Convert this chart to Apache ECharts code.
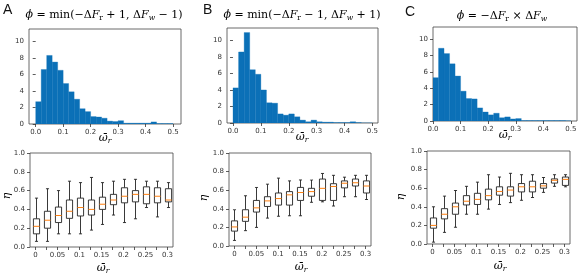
<!DOCTYPE html>
<html><head><meta charset="utf-8">
<script src="https://cdn.jsdelivr.net/npm/echarts@6/dist/echarts.min.js"></script>
<style>html,body{margin:0;padding:0;background:#fff}#c{width:581px;height:276px}</style>
</head><body><div id="c"></div><script>
// ---------- data ----------
const histBinEdges = [0,0.02,0.04,0.06,0.08,0.10,0.12,0.14,0.16,0.18,0.20,0.22,0.24,0.26,0.28,0.30,0.32,0.34,0.36,0.38,0.40,0.42,0.44,0.46,0.48,0.50];
const histA = [2.7,6.6,8.3,7.5,6.5,4.9,3.9,3.0,1.85,1.5,0.9,0.85,0.7,0.35,0.3,0.4,0.1,0.1,0.1,0.1,0.1,0.25,0.05,0.05,0.05];
const histB = [4.25,8.6,10.95,6.45,5.9,4.0,2.45,2.4,1.1,0.95,1.1,0.75,0.35,0.15,0.35,0.15,0.1,0.1,0.05,0.05,0.05,0.15,0.05,0,0];
const histC = [5.3,8.9,8.25,7.0,5.5,3.65,2.75,2.7,1.6,1.1,0.75,0.95,0.4,0.5,0.25,0.3,0.05,0.05,0.05,0.05,0.05,0.05,0.05,0.05,0.02];
const histXTickLabels = ['0.0','0.1','0.2','0.3','0.4','0.5'];
const histYTickLabels = ['0','2','4','6','8','10'];

const boxCategories = ['0','','0.05','','0.1','','0.15','','0.2','','0.25','','0.3'];
const boxYTickLabels = ['0.0','0.2','0.4','0.6','0.8','1.0'];
// [low whisker, Q1, median, Q3, high whisker]
const boxA = [[0.06,0.14,0.22,0.30,0.52],[0.06,0.20,0.285,0.38,0.62],[0.14,0.26,0.335,0.425,0.60],[0.14,0.305,0.38,0.50,0.70],[0.14,0.33,0.42,0.52,0.685],[0.18,0.34,0.40,0.50,0.74],[0.24,0.40,0.455,0.53,0.685],[0.34,0.45,0.50,0.56,0.70],[0.26,0.47,0.54,0.63,0.72],[0.30,0.48,0.56,0.60,0.72],[0.42,0.46,0.56,0.64,0.70],[0.32,0.47,0.54,0.63,0.70],[0.42,0.48,0.50,0.62,0.685]];
const boxB = [[0.06,0.16,0.205,0.27,0.39],[0.165,0.265,0.31,0.39,0.54],[0.20,0.365,0.41,0.49,0.63],[0.30,0.425,0.485,0.53,0.665],[0.32,0.44,0.51,0.57,0.73],[0.325,0.44,0.55,0.585,0.70],[0.325,0.49,0.575,0.63,0.71],[0.47,0.535,0.585,0.62,0.71],[0.475,0.49,0.62,0.72,0.78],[0.43,0.49,0.64,0.67,0.76],[0.53,0.625,0.675,0.70,0.74],[0.53,0.645,0.68,0.72,0.76],[0.50,0.57,0.645,0.70,0.76]];
const boxC = [[0.02,0.17,0.20,0.28,0.40],[0.125,0.27,0.32,0.38,0.515],[0.18,0.32,0.40,0.44,0.575],[0.32,0.42,0.46,0.52,0.62],[0.32,0.425,0.48,0.545,0.665],[0.375,0.475,0.52,0.59,0.745],[0.425,0.525,0.565,0.615,0.72],[0.445,0.515,0.58,0.615,0.76],[0.47,0.56,0.615,0.65,0.745],[0.50,0.56,0.615,0.675,0.745],[0.555,0.60,0.625,0.65,0.715],[0.62,0.655,0.685,0.70,0.745],[0.615,0.63,0.695,0.72,0.745]];
// outliers: [category index, value]
const outA = [[7,0.29],[7,0.265],[8,0.14]];
const outB = [[0,0.43],[1,0.585],[2,0.77],[2,0.72],[2,0.70],[2,0.69],[2,0.68],[2,0.67],[3,0.71],[7,0.75]];
const outC = [[1,0.56],[1,0.075],[2,0.64],[3,0.685],[3,0.265],[5,0.32],[5,0.315],[6,0.36],[6,0.355],[7,0.32],[10,0.50],[11,0.57],[11,0.555],[12,0.475]];

// ---------- layout ----------
const histGrids = [
  {left:29, top:29, width:152, height:95, xmin:-0.0244, xmax:0.529},
  {left:227, top:28, width:151, height:95, xmin:-0.0215, xmax:0.520},
  {left:433, top:27, width:144, height:94, xmin:0.0, xmax:0.522}
];
const boxGrids = [
  {left:30, top:153, width:143, height:94},
  {left:229, top:153, width:142, height:93},
  {left:427, top:151, width:143, height:93}
];
const AX = '#333';
const tickFont = {fontFamily:'DejaVu Sans', fontSize:7, color:'#333'};

const grids=[], xAxes=[], yAxes=[], series=[];
const histX = histXTickLabels.map(Number), histY = histYTickLabels.map(Number);
const hists = [histA, histB, histC];
histGrids.forEach((g,i)=>{
  grids.push({left:g.left, top:g.top, width:g.width, height:g.height, show:true, borderColor:'#444', borderWidth:0.8});
  xAxes.push({gridIndex:i, type:'value', min:g.xmin, max:g.xmax,
    axisLine:{show:false}, splitLine:{show:false},
    axisTick:{show:true, length:3, lineStyle:{color:AX, width:0.8}, customValues:histX},
    axisLabel:Object.assign({customValues:histX, margin:5, formatter:v=>histXTickLabels[histX.findIndex(t=>Math.abs(t-v)<1e-9)]}, tickFont)});
  yAxes.push({gridIndex:i, type:'value', min:0, max:11.5,
    axisLine:{show:false}, splitLine:{show:false},
    axisTick:{show:true, length:3, lineStyle:{color:AX, width:0.8}, customValues:histY},
    axisLabel:Object.assign({customValues:histY, margin:5, formatter:v=>histYTickLabels[histY.indexOf(v)]}, tickFont)});
  const data = hists[i].map((h,k)=>[histBinEdges[k], histBinEdges[k+1], h]);
  series.push({type:'custom', xAxisIndex:i, yAxisIndex:i, data, encode:{x:[0,1], y:2}, clip:true,
    renderItem:(params, api)=>{
      const p0 = api.coord([api.value(0), 0]);
      const p1 = api.coord([api.value(1), api.value(2)]);
      return {type:'rect', shape:{x:p0[0], y:p1[1], width:p1[0]-p0[0], height:p0[1]-p1[1]},
        style:{fill:'#0b70b7', stroke:'#0b70b7', lineWidth:0.3}};
    }});
});
const boxes=[boxA, boxB, boxC], outs=[outA,outB,outC];
boxGrids.forEach((g,j)=>{
  const i = j+3;
  grids.push({left:g.left, top:g.top, width:g.width, height:g.height, show:true, borderColor:'#444', borderWidth:0.8});
  xAxes.push({gridIndex:i, type:'category', data:boxCategories, boundaryGap:true,
    axisLine:{show:false}, splitLine:{show:false},
    axisTick:{show:true, length:3, alignWithLabel:true, interval:0, lineStyle:{color:AX, width:0.8}},
    axisLabel:Object.assign({interval:0, margin:5}, tickFont)});
  yAxes.push({gridIndex:i, type:'value', min:0, max:1, interval:0.2,
    axisLine:{show:false}, splitLine:{show:false},
    axisTick:{show:true, length:3, lineStyle:{color:AX, width:0.8}},
    axisLabel:Object.assign({margin:5, formatter:v=>boxYTickLabels[Math.round(v/0.2)]}, tickFont)});
  const data = boxes[j].map((b,k)=>[k].concat(b));
  series.push({type:'custom', xAxisIndex:i, yAxisIndex:i, data, encode:{x:0, y:[1,2,3,4,5]},
    renderItem:(params, api)=>{
      const k = api.value(0);
      const band = api.size([1,0])[0];
      const bw = band*0.56, cw = band*0.28;
      const lo=api.coord([k,api.value(1)]), q1=api.coord([k,api.value(2)]), md=api.coord([k,api.value(3)]),
            q3=api.coord([k,api.value(4)]), hi=api.coord([k,api.value(5)]);
      const x = Math.round(lo[0])+0.5;
      const ls = {stroke:'#222', lineWidth:0.9};
      return {type:'group', children:[
        {type:'line', shape:{x1:x,y1:q3[1],x2:x,y2:hi[1]}, style:ls},
        {type:'line', shape:{x1:x,y1:q1[1],x2:x,y2:lo[1]}, style:ls},
        {type:'line', shape:{x1:x-cw/2,y1:hi[1],x2:x+cw/2,y2:hi[1]}, style:ls},
        {type:'line', shape:{x1:x-cw/2,y1:lo[1],x2:x+cw/2,y2:lo[1]}, style:ls},
        {type:'rect', shape:{x:x-bw/2, y:q3[1], width:bw, height:q1[1]-q3[1]}, style:{fill:'#fff', stroke:'#222', lineWidth:0.9}},
        {type:'line', shape:{x1:x-bw/2,y1:md[1],x2:x+bw/2,y2:md[1]}, style:{stroke:'#ff7f0e', lineWidth:1}}
      ]};
    }});
  series.push({type:'scatter', xAxisIndex:i, yAxisIndex:i, data:outs[j], symbol:'emptyCircle', symbolSize:4.5,
    itemStyle:{color:'#fff', borderColor:'#222', borderWidth:0.8}, silent:true});
});

// ---------- texts ----------
const serif = 'DejaVu Serif';
const TC = '#3a3a3a';
const rich = {
  n:{fontFamily:serif, fontSize:11, lineHeight:15, color:TC},
  i:{fontFamily:serif, fontSize:11, lineHeight:15, fontStyle:'italic', color:TC},
  s:{fontFamily:serif, fontSize:7.5, lineHeight:6, verticalAlign:'bottom', color:TC},
  si:{fontFamily:serif, fontSize:7.5, lineHeight:6, verticalAlign:'bottom', fontStyle:'italic', color:TC},
  big:{fontFamily:serif, fontSize:11, lineHeight:15, fontStyle:'italic', color:TC}
};
function txt(x,y,text,rot){
  return {type:'text', x:x, y:y, rotation:rot||0, style:{text:text, rich:rich, align:'center', verticalAlign:'middle', textAlign:'center', textVerticalAlign:'middle'}};
}
const titles = [
  '{i|ϕ}{n| = min(−Δ}{i|F}{s|r}{n| + 1, Δ}{i|F}{si|w}{n| − 1)}',
  '{i|ϕ}{n| = min(−Δ}{i|F}{s|r}{n| − 1, Δ}{i|F}{si|w}{n| + 1)}',
  '{i|ϕ}{n| = −Δ}{i|F}{s|r}{n| × Δ}{i|F}{si|w}'
];
const omegaLabel = '{big|ω̄}{si|r}';
const graphics = [
  {type:'text', left:3, top:3, style:{text:'A', font:'14px "Liberation Sans"', fill:'#111'}},
  {type:'text', left:203, top:3, style:{text:'B', font:'14px "Liberation Sans"', fill:'#111'}},
  {type:'text', left:405, top:5, style:{text:'C', font:'14px "Liberation Sans"', fill:'#111'}},
  txt(104,15,titles[0]), txt(302,15,titles[1]), txt(502,16,titles[2]),
  txt(105,138,omegaLabel), txt(302,137,omegaLabel), txt(505,135,omegaLabel),
  txt(103,268,omegaLabel), txt(301,267,omegaLabel), txt(500,266,omegaLabel),
  txt(7,196,'{big|η}',Math.PI/2), txt(204,198,'{big|η}',Math.PI/2), txt(401,197,'{big|η}',Math.PI/2)
];

const chart = echarts.init(document.getElementById('c'), null, {renderer:'canvas'});
chart.setOption({animation:false, backgroundColor:'#fff', grid:grids, xAxis:xAxes, yAxis:yAxes, series:series, graphic:graphics});
</script></body></html>
